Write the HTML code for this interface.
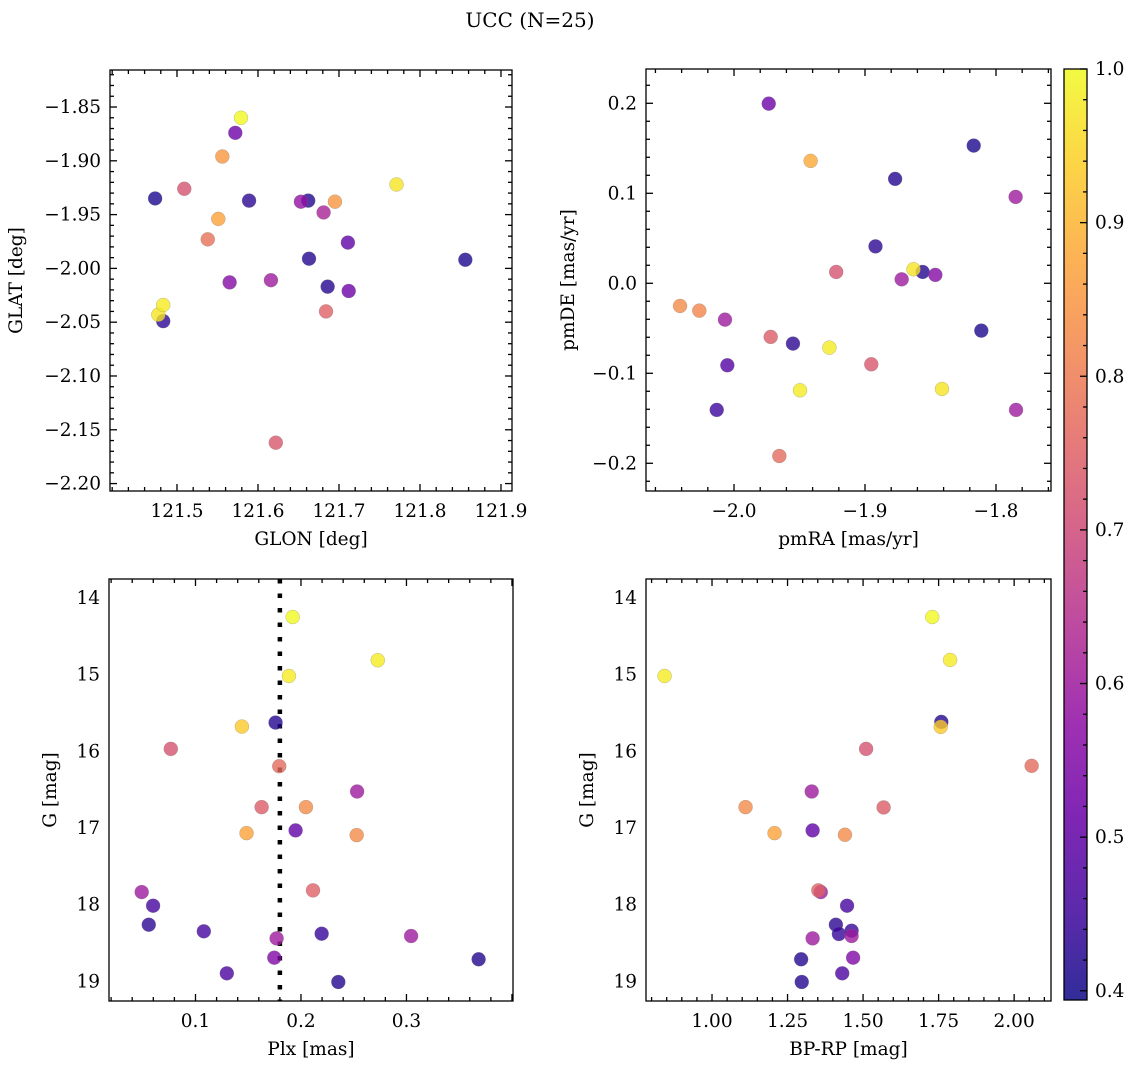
<!DOCTYPE html>
<html><head><meta charset="utf-8"><style>
html,body{margin:0;padding:0;background:#fff;}
svg{display:block;font-family:"DejaVu Serif","Liberation Serif",serif;}
</style></head>
<body>
<svg id="fig" width="1136" height="1068" viewBox="0 0 1136 1068" xmlns="http://www.w3.org/2000/svg">
<text x="530" y="27" text-anchor="middle" font-size="20">UCC (N=25)</text>
</svg>
<script>
// ---- Panel 1: GLON vs GLAT ----
const glon = [121.579,121.572,121.556,121.771,121.509,121.473,121.589,121.653,121.662,121.695,121.681,121.551,121.538,121.711,121.663,121.856,121.565,121.616,121.686,121.712,121.684,121.483,121.477,121.483,121.622];
const glat = [-1.860,-1.874,-1.896,-1.922,-1.926,-1.935,-1.937,-1.938,-1.937,-1.938,-1.948,-1.954,-1.973,-1.976,-1.991,-1.992,-2.013,-2.011,-2.017,-2.021,-2.040,-2.034,-2.043,-2.049,-2.162];
const probA = [1.0,0.52,0.85,0.97,0.72,0.41,0.43,0.58,0.42,0.85,0.62,0.87,0.78,0.5,0.42,0.41,0.56,0.6,0.42,0.52,0.75,0.98,0.97,0.43,0.73];
// ---- Panel 2: pmRA vs pmDE ----
const pmra = [-1.9735,-1.817,-1.9415,-1.877,-1.785,-1.892,-1.922,-1.863,-1.856,-1.8463,-1.872,-2.0412,-2.0265,-2.0069,-1.972,-1.955,-1.9272,-1.8112,-2.0051,-1.8952,-1.9496,-1.8412,-2.0132,-1.7847,-1.9654];
const pmde = [0.1996,0.153,0.136,0.116,0.096,0.041,0.0126,0.0156,0.0126,0.0093,0.0044,-0.0252,-0.0304,-0.0404,-0.0596,-0.067,-0.0715,-0.0526,-0.0911,-0.09,-0.1189,-0.1174,-0.1407,-0.1407,-0.1919];
const probB = [0.52,0.41,0.88,0.42,0.6,0.43,0.72,0.97,0.42,0.56,0.6,0.83,0.82,0.6,0.74,0.43,0.98,0.41,0.48,0.73,0.98,0.97,0.45,0.6,0.77];
// ---- Panel 3: Plx vs G ----
const plx = [0.1921,0.2728,0.1886,0.1759,0.144,0.0766,0.1794,0.2532,0.1627,0.2047,0.1949,0.1484,0.2528,0.0490,0.2114,0.0598,0.0557,0.1079,0.2196,0.1769,0.3044,0.3684,0.1747,0.1297,0.2354];
const gmagC = [14.248,14.812,15.017,15.625,15.677,15.968,16.194,16.524,16.728,16.728,17.032,17.067,17.093,17.836,17.814,18.014,18.262,18.348,18.379,18.44,18.409,18.713,18.692,18.896,19.009];
const probC = [1.0,0.98,0.98,0.42,0.93,0.72,0.77,0.6,0.74,0.83,0.5,0.87,0.83,0.6,0.75,0.46,0.43,0.46,0.44,0.6,0.6,0.42,0.55,0.47,0.42];
const plxLine = 0.180;
// ---- Panel 4: BP-RP vs G ----
const bprp = [1.729,1.788,0.843,1.759,1.757,1.510,2.058,1.330,1.111,1.568,1.333,1.207,1.440,1.360,1.352,1.447,1.410,1.420,1.462,1.333,1.462,1.295,1.467,1.431,1.297];
const gmagD = [14.248,14.808,15.017,15.616,15.681,15.968,16.189,16.524,16.728,16.732,17.032,17.067,17.089,17.836,17.814,18.014,18.262,18.383,18.340,18.44,18.409,18.713,18.692,18.896,19.009];
const probD = [1.0,0.98,0.98,0.42,0.93,0.72,0.77,0.6,0.83,0.74,0.5,0.87,0.83,0.6,0.75,0.46,0.43,0.44,0.44,0.6,0.6,0.42,0.55,0.47,0.42];
// tick labels
const ticksA_x = [121.5,121.6,121.7,121.8,121.9];
const ticksA_y = [-1.85,-1.90,-1.95,-2.00,-2.05,-2.10,-2.15,-2.20];
const ticksB_x = [-2.0,-1.9,-1.8];
const ticksB_y = [0.2,0.1,0.0,-0.1,-0.2];
const ticksC_x = [0.1,0.2,0.3];
const ticksG = [14,15,16,17,18,19];
const ticksD_x = [1.00,1.25,1.50,1.75,2.00];
const ticksCbar = [0.4,0.5,0.6,0.7,0.8,0.9,1.0];
const cmin = 0.394, cmax = 1.0;

const NS = "http://www.w3.org/2000/svg";
const svg = document.getElementById('fig');
const stops = ["#0d0887","#41049d","#6a00a8","#8f0da4","#b12a90","#cc4778","#e16462","#f2844b","#fca636","#fcce25","#f0f921"];
function hex(h){return [parseInt(h.substr(1,2),16),parseInt(h.substr(3,2),16),parseInt(h.substr(5,2),16)];}
function plasma(t){t=Math.max(0,Math.min(1,t));const s=t*10;const i=Math.min(9,Math.floor(s));const f=s-i;const a=hex(stops[i]),b=hex(stops[i+1]);
return "rgb("+a.map((v,k)=>Math.round(v+(b[k]-v)*f)).join(",")+")";}
function mk(tag,attrs,parent){const e=document.createElementNS(NS,tag);for(const k in attrs)e.setAttribute(k,attrs[k]);(parent||svg).appendChild(e);return e;}
function fmt(v,d){let s=v.toFixed(d);if(v<0)s="\u2212"+s.slice(1);return s;}
const FS=18.5;

function panel(o){
  const g=mk('g',{});
  
  
  const sx=v=>o.x0+(v-o.xmin)/(o.xmax-o.xmin)*(o.x1-o.x0);
  const sy=v=>o.y1-(v-o.ymin)/(o.ymax-o.ymin)*(o.y1-o.y0);
  const tg=mk('g',{stroke:'#000','stroke-width':1.3},g);
  
  
  const nx0=Math.ceil(o.xmin/o.xminor-1e-6), nx1=Math.floor(o.xmax/o.xminor+1e-6);
  for(let n=nx0;n<=nx1;n++){const v=n*o.xminor;
    const X=sx(v); const r=v/o.xmajor; const maj=Math.abs(Math.round(r)-r)<0.01; const L=maj?7:4;
    mk('line',{x1:X,x2:X,y1:o.y1,y2:o.y1-L},tg); mk('line',{x1:X,x2:X,y1:o.y0,y2:o.y0+L},tg);
  }
  const ny0=Math.ceil(o.ymin/o.yminor-1e-6), ny1=Math.floor(o.ymax/o.yminor+1e-6);
  for(let n=ny0;n<=ny1;n++){const v=n*o.yminor;
    const Y=sy(v); const r=v/o.ymajor; const maj=Math.abs(Math.round(r)-r)<0.01; const L=maj?7:4;
    mk('line',{x1:o.x0,x2:o.x0+L,y1:Y,y2:Y},tg); mk('line',{x1:o.x1,x2:o.x1-L,y1:Y,y2:Y},tg);
  }
  o.xt.forEach(v=>{const t=mk('text',{x:sx(v),y:o.y1+26,'text-anchor':'middle','font-size':FS},g);t.textContent=fmt(v,o.xd);
    
    });
  o.yt.forEach(v=>{const t=mk('text',{x:o.x0-9,y:sy(v)+6,'text-anchor':'end','font-size':FS},g);t.textContent=fmt(v,o.yd);
    
    });
  const xl=mk('text',{x:(o.x0+o.x1)/2,y:o.y1+54,'text-anchor':'middle','font-size':FS},g);xl.textContent=o.xlabel;
  
  
  const yl=mk('text',{x:0,y:0,'text-anchor':'middle','font-size':FS,transform:`translate(${o.ylx},${(o.y0+o.y1)/2}) rotate(-90)`},g);yl.textContent=o.ylabel;
  
  
  if(o.vline!==undefined){const l=mk('line',{x1:sx(o.vline),x2:sx(o.vline),y1:o.y0,y2:o.y1,stroke:'#000','stroke-width':4.5,'stroke-dasharray':'4.5 10'},g);
    
    }
  const idx=o.xs.map((_,i)=>i).sort((a,b)=>o.cs[a]-o.cs[b]);
  idx.forEach(i=>{const c=mk('circle',{cx:sx(o.xs[i]),cy:sy(o.ys[i]),r:7,fill:plasma((o.cs[i]-cmin)/(cmax-cmin)),'fill-opacity':0.8,stroke:'#777','stroke-width':0.4,'stroke-opacity':0.6},g);
    
    });
  const fr=mk('rect',{x:o.x0,y:o.y0,width:o.x1-o.x0,height:o.y1-o.y0,fill:'none',stroke:'#000','stroke-width':1.3},g);
  
  
}

panel({name:'glon-glat-panel',x0:110,x1:512,y0:70,y1:491,xmin:121.4173,xmax:121.9136,ymin:-2.2069,ymax:-1.8156,
  xminor:0.02,xmajor:0.1,yminor:0.01,ymajor:0.05,xt:ticksA_x,yt:ticksA_y,xd:1,yd:2,xlabel:'GLON [deg]',ylabel:'GLAT [deg]',ylx:22,
  xs:glon,ys:glat,cs:probA});
panel({name:'pm-panel',x0:646,x1:1051,y0:69,y1:491,xmin:-2.0672,xmax:-1.758,ymin:-0.2308,ymax:0.2381,
  xminor:0.02,xmajor:0.1,yminor:0.02,ymajor:0.1,xt:ticksB_x,yt:ticksB_y,xd:1,yd:1,xlabel:'pmRA [mas/yr]',ylabel:'pmDE [mas/yr]',ylx:574,
  xs:pmra,ys:pmde,cs:probB});
panel({name:'plx-g-panel',x0:109,x1:513,y0:579,y1:1001,xmin:0.018,xmax:0.401,ymin:19.257,ymax:13.752,
  xminor:0.02,xmajor:0.1,yminor:0.2,ymajor:1,xt:ticksC_x,yt:ticksG,xd:1,yd:0,xlabel:'Plx [mas]',ylabel:'G [mag]',ylx:56,
  xs:plx,ys:gmagC,cs:probC,vline:plxLine});
panel({name:'cmd-panel',x0:646,x1:1051,y0:579,y1:1001,xmin:0.7815,xmax:2.122,ymin:19.257,ymax:13.752,
  xminor:0.05,xmajor:0.25,yminor:0.2,ymajor:1,xt:ticksD_x,yt:ticksG,xd:2,yd:0,xlabel:'BP-RP [mag]',ylabel:'G [mag]',ylx:593,
  xs:bprp,ys:gmagD,cs:probD});

// ---- colorbar ----
const cb=mk('g',{});


const defs=mk('defs',{},cb);
const grad=mk('linearGradient',{id:'plg',x1:0,y1:1,x2:0,y2:0},defs);
stops.forEach((s,i)=>mk('stop',{offset:(i/10),'stop-color':s,'stop-opacity':0.85},grad));
const cx0=1064,cx1=1087,cy0=69,cy1=1000;
mk('rect',{x:cx0,y:cy0,width:cx1-cx0,height:cy1-cy0,fill:'url(#plg)',stroke:'#000','stroke-width':1.3},cb);
const csy=v=>cy1-(v-cmin)/(cmax-cmin)*(cy1-cy0);
for(let n=20;n<=50;n++){const v=n*0.02;const Y=csy(v);const maj=(n%5===0);
  mk('line',{x1:cx1,x2:cx1-(maj?7:4),y1:Y,y2:Y,stroke:'#000','stroke-width':1.3},cb);}
ticksCbar.forEach(v=>{const t=mk('text',{x:cx1+8,y:csy(v)+6,'font-size':FS},cb);t.textContent=v.toFixed(1);
  
  });
</script>
</body></html>
